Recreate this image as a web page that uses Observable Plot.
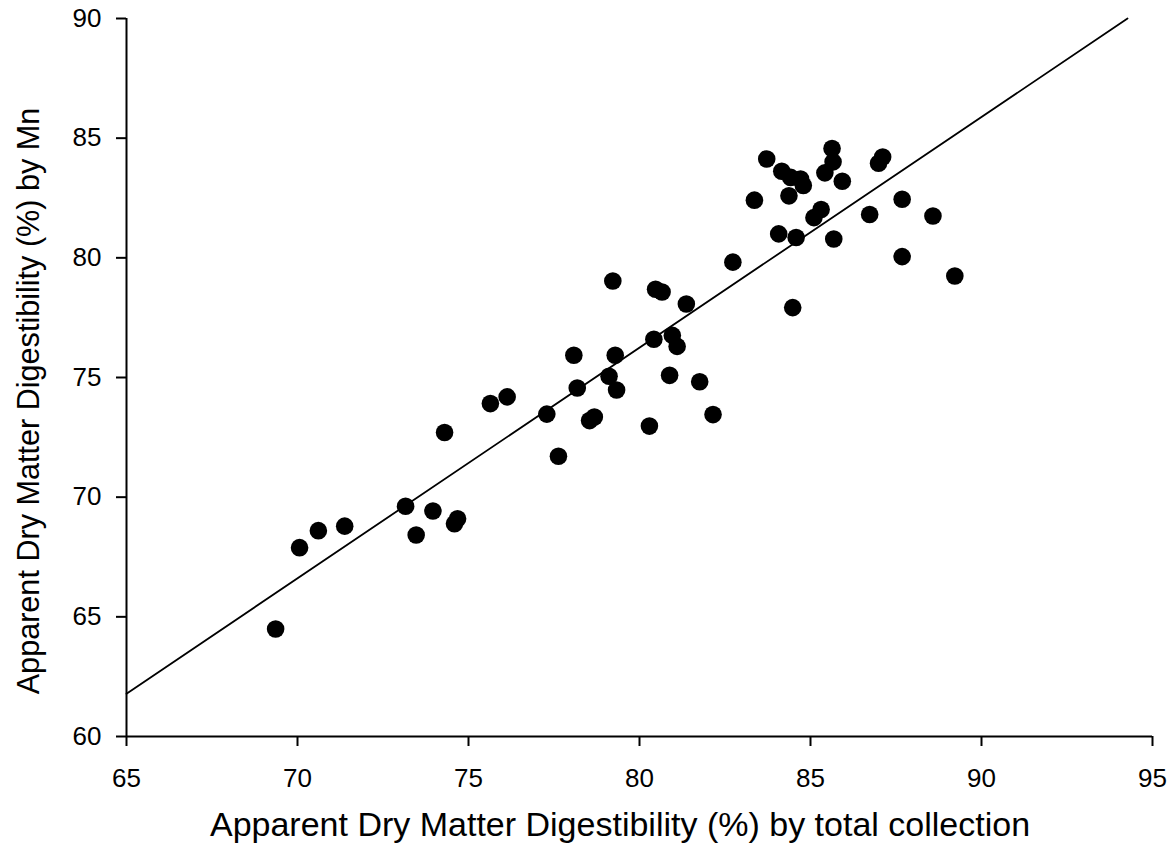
<!DOCTYPE html>
<html>
<head>
<meta charset="utf-8">
<script src="https://cdn.jsdelivr.net/npm/d3@7"></script>
<script src="https://cdn.jsdelivr.net/npm/@observablehq/plot@0.6"></script>
<style>
  html, body { margin: 0; padding: 0; background: #fff; }
  #chart svg { display: block; }
</style>
</head>
<body>
<div id="chart"></div>
<script>
// Apparent DM digestibility by total collection (x) vs by Mn marker (y)
const totalCollection = [
  69.36, 70.06, 70.61, 71.38, 73.16, 73.47, 73.96, 74.30, 74.59, 74.68,
  75.64, 76.13, 77.29, 77.63, 78.08, 78.18, 78.54, 78.68, 79.11, 79.22,
  79.29, 79.33, 80.29, 80.42, 80.47, 80.66, 80.88, 80.96, 81.10, 81.37,
  81.76, 82.15, 82.73, 83.36, 83.72, 84.07, 84.16, 84.37, 84.42, 84.48,
  84.58, 84.71, 84.79, 85.10, 85.31, 85.42, 85.63, 85.66, 85.68, 85.93,
  86.73, 86.99, 87.11, 87.68, 87.68, 88.58, 89.22
];
const byMn = [
  64.49, 67.89, 68.60, 68.79, 69.62, 68.42, 69.42, 72.70, 68.89, 69.10,
  73.91, 74.19, 73.47, 71.71, 75.93, 74.56, 73.20, 73.35, 75.05, 79.03,
  75.93, 74.48, 72.97, 76.60, 78.69, 78.57, 75.09, 76.76, 76.30, 78.07,
  74.82, 73.45, 79.82, 82.41, 84.13, 81.00, 83.62, 82.59, 83.36, 77.92,
  80.85, 83.29, 83.02, 81.68, 82.02, 83.55, 84.57, 84.01, 80.79, 83.20,
  81.81, 83.95, 84.21, 82.45, 80.05, 81.75, 79.24
];
// fitted line end points
const fitX = [65, 94.27];
const fitY = [61.79, 90];

const xTicks = [65, 70, 75, 80, 85, 90, 95];
const yTicks = [60, 65, 70, 75, 80, 85, 90];

const xTitle = "Apparent Dry Matter Digestibility (%) by total collection";
const yTitle = "Apparent Dry Matter Digestibility (%) by Mn";

const points = totalCollection.map((x, i) => ({x, y: byMn[i]}));
const fit = fitX.map((x, i) => ({x, y: fitY[i]}));

const chart = Plot.plot({
  width: 1176,
  height: 865,
  marginTop: 18,
  marginBottom: 129,
  marginLeft: 126,
  marginRight: 24,
  style: {fontFamily: "'Liberation Sans', Arial, sans-serif", fontSize: "26px"},
  x: {domain: [65, 95], ticks: xTicks, label: null},
  y: {domain: [60, 90], ticks: yTicks, label: null},
  marks: [
    Plot.axisX({ticks: xTicks, tickSize: 10, tickPadding: 22, label: null}),
    Plot.axisY({ticks: yTicks, tickSize: 10, tickPadding: 15, label: null}),
    Plot.ruleY([60], {stroke: "#000", strokeWidth: 2}),
    Plot.ruleX([65], {stroke: "#000", strokeWidth: 2}),
    Plot.line(fit, {x: "x", y: "y", stroke: "#000", strokeWidth: 1.8}),
    Plot.dot(points, {x: "x", y: "y", r: 8.8, fill: "#000"})
  ]
});

document.getElementById("chart").appendChild(chart);

const svg = d3.select(chart);
svg.selectAll('g[aria-label="x-axis tick"], g[aria-label="y-axis tick"]')
  .attr("stroke-width", 2);

svg.append("text")
  .attr("x", 620).attr("y", 836)
  .attr("text-anchor", "middle")
  .attr("font-size", 34)
  .attr("fill", "#000")
  .text(xTitle);
svg.append("text")
  .attr("transform", "translate(39,401) rotate(-90)")
  .attr("text-anchor", "middle")
  .attr("font-size", 30.6)
  .attr("fill", "#000")
  .text(yTitle);
</script>
</body>
</html>
